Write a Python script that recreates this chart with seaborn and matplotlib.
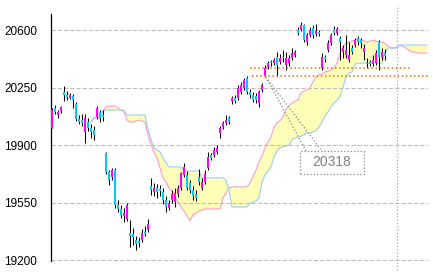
import numpy as np
import matplotlib
matplotlib.use("Agg")
import matplotlib.pyplot as plt
import seaborn as sns
from matplotlib.patches import Rectangle

# ---------------- data ----------------
opens = [20004, 20126, 20083, 20107, 20223, 20205, 20187, 20199, 20150, 20059,
         20053, 19980, 20040, 20004, 19992, 20071, 20101, 20083, 19852, 19736,
         19706, 19748, 19535, 19511, 19468, 19450, 19364, 19358, 19322, 19316,
         19322, 19370, 19383, 19651, 19614, 19639, 19633, 19614, 19565, 19517,
         19565, 19553, 19602, 19639, 19718, 19718, 19669, 19626, 19602, 19706,
         19639, 19675, 19761, 19840, 19840, 19858, 19974, 20010, 20034, 20065,
         20168, 20187, 20187, 20223, 20247, 20308, 20223, 20205, 20199, 20156,
         20235, 20327, 20375, 20406, 20399, 20436, 20406, 20436, 20387, 20399,
         20430, 20448, 20600, 20600, 20631, 20527, 20570, 20612, 20576, 20588,
         20369, 20436, 20478, 20521, 20606, 20582, 20551, 20466, 20448, 20418,
         20491, 20509, 20551, 20539, 20466, 20399, 20406, 20393, 20399, 20527,
         20436, 20460]
closes = [20113, 20101, 20101, 20132, 20205, 20193, 20205, 20174, 20059, 20040,
          20034, 20065, 20004, 19980, 19962, 20126, 20065, 20071, 19736, 19687,
          19748, 19535, 19511, 19474, 19486, 19535, 19346, 19340, 19298, 19304,
          19364, 19358, 19419, 19626, 19639, 19614, 19620, 19565, 19523, 19547,
          19602, 19608, 19639, 19730, 19767, 19639, 19626, 19590, 19578, 19675,
          19675, 19724, 19828, 19822, 19870, 19883, 20004, 20034, 20053, 20040,
          20187, 20168, 20247, 20266, 20296, 20223, 20205, 20174, 20174, 20223,
          20266, 20369, 20399, 20399, 20418, 20387, 20430, 20430, 20430, 20430,
          20460, 20466, 20582, 20631, 20539, 20570, 20600, 20570, 20594, 20576,
          20436, 20424, 20521, 20570, 20582, 20606, 20527, 20491, 20478, 20448,
          20466, 20539, 20527, 20521, 20491, 20393, 20393, 20418, 20460, 20436,
          20466, 20442]
highs = [20126, 20144, 20113, 20138, 20260, 20229, 20217, 20211, 20162, 20083,
         20089, 20089, 20065, 20028, 20016, 20138, 20113, 20113, 19858, 19748,
         19761, 19761, 19565, 19535, 19517, 19547, 19444, 19395, 19346, 19340,
         19389, 19407, 19450, 19700, 19669, 19663, 19657, 19639, 19590, 19565,
         19626, 19639, 19657, 19736, 19791, 19742, 19687, 19651, 19626, 19755,
         19700, 19748, 19858, 19852, 19889, 19901, 20016, 20047, 20083, 20077,
         20199, 20205, 20266, 20284, 20308, 20320, 20241, 20223, 20217, 20235,
         20278, 20387, 20412, 20418, 20430, 20466, 20454, 20478, 20466, 20448,
         20491, 20478, 20619, 20649, 20637, 20582, 20619, 20631, 20637, 20600,
         20460, 20448, 20539, 20582, 20625, 20619, 20564, 20509, 20570, 20527,
         20509, 20551, 20564, 20551, 20515, 20430, 20418, 20448, 20478, 20539,
         20491, 20485]
lows = [20004, 20089, 20065, 20095, 20168, 20174, 20180, 20126, 20047, 20028,
        20016, 19913, 19986, 19943, 19931, 20059, 20040, 20047, 19724, 19657,
        19687, 19517, 19492, 19456, 19431, 19438, 19279, 19292, 19261, 19279,
        19310, 19346, 19370, 19596, 19590, 19578, 19590, 19541, 19492, 19505,
        19547, 19523, 19584, 19626, 19706, 19626, 19608, 19565, 19559, 19657,
        19626, 19663, 19748, 19809, 19828, 19846, 19943, 19998, 20022, 20028,
        20150, 20156, 20174, 20211, 20235, 20211, 20187, 20162, 20156, 20132,
        20223, 20318, 20363, 20381, 20387, 20320, 20393, 20406, 20357, 20381,
        20418, 20436, 20570, 20594, 20527, 20509, 20557, 20551, 20564, 20564,
        20357, 20406, 20466, 20509, 20570, 20570, 20418, 20430, 20430, 20406,
        20454, 20497, 20509, 20491, 20418, 20369, 20381, 20381, 20387, 20357,
        20418, 20418]

cloud_start = 13
span_a = [20040, 20065, 20071, 20071, 20101, 20132, 20138, 20138, 20138, 20126,
          20113, 20101, 20053, 20040, 20040, 20047, 20053, 20047, 20040, 19962,
          19901, 19858, 19822, 19761, 19700, 19675, 19639, 19620, 19584, 19553,
          19523, 19498, 19468, 19438, 19474, 19486, 19498, 19505, 19511, 19511,
          19511, 19511, 19511, 19511, 19578, 19608, 19639, 19645, 19645, 19645,
          19645, 19645, 19645, 19669, 19706, 19748, 19797, 19834, 19883, 19919,
          19949, 20010, 20034, 20047, 20071, 20113, 20138, 20156, 20168, 20174,
          20217, 20229, 20235, 20247, 20284, 20314, 20327, 20333, 20345, 20351,
          20357, 20369, 20399, 20460, 20497, 20521, 20527, 20533, 20539, 20545,
          20539, 20533, 20527, 20533, 20539, 20533, 20527, 20527, 20521, 20503,
          20491, 20491, 20497, 20509, 20503, 20491, 20478, 20466, 20466, 20460,
          20460, 20460, 20460]
span_b = [20040, 20065, 20065, 20065, 20113, 20113, 20113, 20113, 20113, 20113,
          20113, 20113, 20083, 20083, 20083, 20083, 20083, 20083, 20083, 19992,
          19931, 19883, 19870, 19858, 19822, 19791, 19767, 19767, 19767, 19767,
          19767, 19742, 19742, 19742, 19742, 19742, 19742, 19700, 19700, 19700,
          19700, 19700, 19700, 19700, 19700, 19687, 19626, 19523, 19523, 19523,
          19523, 19523, 19523, 19547, 19553, 19559, 19578, 19675, 19718, 19742,
          19767, 19828, 19864, 19883, 19889, 19895, 19901, 19931, 19943, 19949,
          19955, 19962, 19974, 19974, 19980, 19986, 20010, 20040, 20077, 20101,
          20132, 20156, 20174, 20193, 20253, 20314, 20339, 20345, 20393, 20399,
          20399, 20399, 20399, 20399, 20399, 20399, 20399, 20399, 20466, 20491,
          20491, 20491, 20491, 20509, 20509, 20509, 20509, 20509, 20509, 20509,
          20509, 20509, 20509]

y_ticks = [19200, 19550, 19900, 20250, 20600]
level_upper = 20369
level_lower = 20318
anno_label = "20318"
anno_index = 71
today_index = 115

# ---------------- style ----------------
sns.set_style("white")
plt.rcParams['font.family'] = ['Liberation Sans', 'DejaVu Sans']

UP = '#FF00FF'
DOWN = '#00C8FF'
PINK = '#FF99CC'
BLUE = '#99CCFF'

fig = plt.figure(figsize=(4.33, 2.74), dpi=100)
ax = fig.add_axes([51 / 433, 13 / 274, 377 / 433, 247 / 274])
ax.set_xlim(-1 / 3, 125.34)
ax.set_ylim(19194, 20698)

# cloud
cx = np.arange(cloud_start, cloud_start + len(span_a))
ax.fill_between(cx, span_a, span_b, facecolor='#FFFFB8', linewidth=0, zorder=1)
sns.lineplot(x=cx, y=span_a, color=PINK, lw=0.8, ax=ax, zorder=2)
sns.lineplot(x=cx, y=span_b, color=BLUE, lw=0.8, ax=ax, zorder=2)

# grid
for t in y_ticks:
    ax.axhline(t, color='#BBBBBB', lw=0.75, ls=(0, (4, 2)), zorder=1.5)

# candles
idx = np.arange(len(opens))
o = np.array(opens); c = np.array(closes)
cols = [UP if cc >= oo else DOWN for oo, cc in zip(o, c)]
ax.vlines(idx, lows, highs, color='black', lw=0.75, zorder=3)
ax.bar(idx, c - o, bottom=o, width=0.9, color=cols, linewidth=0, zorder=4)

# orange levels
ax.hlines(level_upper, 66, 119.7, color='#FF6600', lw=1.1, ls=':', zorder=5)
ax.hlines(level_lower, 66.7, 125.34, color='#FF6600', lw=1.1, ls=':', zorder=5,
          clip_on=False)

# today marker
ax.axvline(today_index, ymin=-0.036, ymax=1.036, clip_on=False,
           color='#AAAAAA', lw=0.9, ls=':', zorder=5)

# annotation box with wedge pointer
box_l, box_r, box_b, box_t = 82.7, 104.0, 19724, 19864
ax.plot([anno_index + 0.3, 84.7], [level_lower - 4, box_t], color='#888888',
        lw=0.9, ls=':', zorder=6)
ax.plot([anno_index + 0.3, 90.0], [level_lower - 4, box_t], color='#888888',
        lw=0.9, ls=':', zorder=6)
ax.add_patch(Rectangle((box_l, box_b), box_r - box_l, box_t - box_b,
                       facecolor='white', edgecolor='#888888', lw=0.9, ls=':',
                       zorder=7))
ax.text((box_l + box_r) / 2, (box_b + box_t) / 2, anno_label, fontsize=10,
        color='#808080', ha='center', va='center', zorder=8)

# axes cosmetics
ax.set_yticks(y_ticks)
ax.set_yticklabels([str(t) for t in y_ticks])
ax.set_xticks([])
ax.tick_params(axis='y', length=0, pad=10, labelsize=8.5, labelcolor='black')
for s in ['top', 'right', 'bottom']:
    ax.spines[s].set_visible(False)
ax.spines['left'].set_color('black')
ax.spines['left'].set_linewidth(0.9)
ax.set_xlabel('')
ax.set_ylabel('')

fig.savefig('out.png', dpi=100)
